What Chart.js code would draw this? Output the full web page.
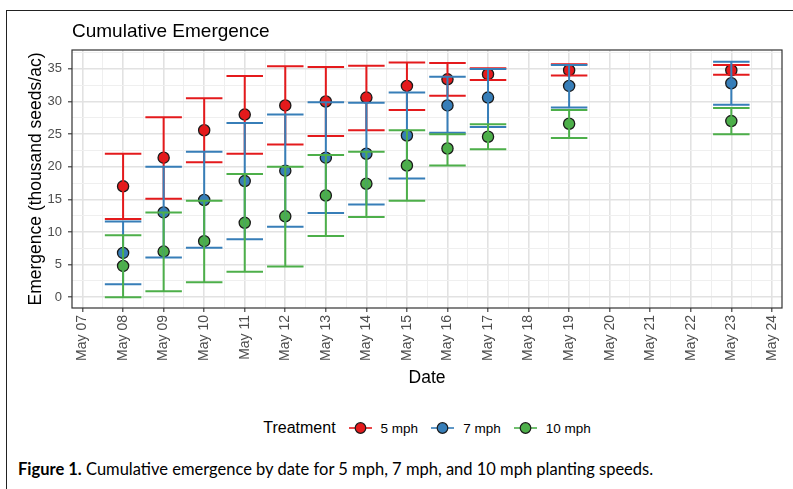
<!DOCTYPE html>
<html>
<head>
<meta charset="utf-8">
<title>Cumulative Emergence</title>
<script src="https://cdn.jsdelivr.net/npm/chart.js@4.4.1/dist/chart.umd.min.js"></script>
<style>
  body { margin: 0; background: #fff; width: 793px; height: 489px; position: relative; overflow: hidden;
         font-family: "Liberation Sans", Arial, sans-serif; }
  #frame { position: absolute; left: 6px; top: 10px; width: 800px; height: 478px;
           border-top: 1px solid #222; border-left: 1px solid #222; }
  #chartBox { position: absolute; left: 0; top: 0; width: 793px; height: 400px; }
  #title { position: absolute; left: 72px; top: 19px; font-size: 19px; line-height: 24px; color: #000; }
  #legend { position: absolute; left: 72px; width: 710px; top: 417px; height: 22px;
            display: flex; justify-content: center; align-items: center; }
  #legend .ttl { font-size: 16px; margin-right: 13px; }
  #legend .item { display: flex; align-items: center; margin-right: 13px; font-size: 13.5px; }
  #legend .item:last-child { margin-right: 0; }
  #legend svg { margin-right: 9px; }
  #caption { position: absolute; left: 18px; top: 459px; font-family: Lato, "Open Sans", sans-serif;
             font-size: 16.5px; color: #000; white-space: nowrap; }
</style>
</head>
<body>
<div id="frame"></div>
<div id="chartBox"><canvas id="chart"></canvas></div>
<div id="title">Cumulative Emergence</div>
<div id="legend"></div>
<div id="caption"><b>Figure 1.</b> Cumulative emergence by date for 5 mph, 7 mph, and 10 mph planting speeds.</div>

<script>
// Day of May for each observation
const days = [8, 9, 10, 11, 12, 13, 14, 15, 16, 17, 19, 23];

// 5 mph
const mean5 = [17.0, 21.4, 25.6, 28.0, 29.4, 30.0, 30.6, 32.4, 33.4, 34.2, 34.8, 34.8];
const low5  = [12.0, 15.1, 20.7, 22.0, 23.4, 24.7, 25.6, 28.7, 30.9, 33.3, 34.0, 34.1];
const high5 = [22.0, 27.6, 30.5, 33.9, 35.4, 35.3, 35.5, 36.0, 35.9, 35.1, 35.7, 35.6];

// 7 mph
const mean7 = [6.8, 13.0, 14.9, 17.8, 19.4, 21.4, 22.0, 24.8, 29.4, 30.6, 32.4, 32.8];
const low7  = [2.0, 6.1, 7.6, 8.9, 10.8, 12.9, 14.2, 18.2, 25.2, 26.1, 29.1, 29.5];
const high7 = [11.6, 20.0, 22.3, 26.7, 28.0, 29.9, 29.8, 31.4, 33.8, 35.0, 35.6, 36.1];

// 10 mph
const mean10 = [4.8, 7.0, 8.6, 11.4, 12.4, 15.6, 17.4, 20.2, 22.8, 24.6, 26.6, 27.0];
const low10  = [0.0, 0.9, 2.3, 3.9, 4.7, 9.4, 12.3, 14.8, 20.2, 22.7, 24.4, 25.0];
const high10 = [9.5, 13.0, 14.8, 18.9, 20.0, 21.8, 22.3, 25.6, 25.0, 26.5, 28.7, 29.0];

const seriesNames = ['5 mph', '7 mph', '10 mph'];
const seriesColors = ['#E41A1C', '#377EB8', '#4DAF4A'];

// Axis ticks (major + minor grid)
const xTicks = [];
for (let d = 7; d <= 24; d += 0.5) xTicks.push(d);
const yTicks = [];
for (let v = 0; v <= 37.5; v += 2.5) yTicks.push(v);

const means = [mean5, mean7, mean10];
const lows = [low5, low7, low10];
const highs = [high5, high7, high10];

const datasets = seriesNames.map((name, i) => ({
    label: name,
    data: days.map((d, j) => ({ x: d, y: means[i][j] })),
    errLow: lows[i],
    errHigh: highs[i],
    showLine: false,
    pointRadius: 5.6,
    pointBorderWidth: 1.3,
    pointBorderColor: '#1a1a1a',
    pointBackgroundColor: seriesColors[i],
    borderColor: seriesColors[i],
    order: 3 - i
}));

// Error bars drawn on top of the points, like the ggplot layer order
const errorBars = {
    id: 'errorBars',
    afterDatasetsDraw(chart) {
        const { ctx, scales: { x, y } } = chart;
        const capHalf = 0.45;
        ctx.save();
        ctx.lineWidth = 2;
        chart.data.datasets.forEach((ds, i) => {
            ctx.strokeStyle = seriesColors[i];
            ds.data.forEach((p, j) => {
                const px = x.getPixelForValue(p.x);
                const xl = x.getPixelForValue(p.x - capHalf);
                const xr = x.getPixelForValue(p.x + capHalf);
                const yl = y.getPixelForValue(ds.errLow[j]);
                const yh = y.getPixelForValue(ds.errHigh[j]);
                ctx.beginPath();
                ctx.moveTo(px, yl); ctx.lineTo(px, yh);
                ctx.moveTo(xl, yl); ctx.lineTo(xr, yl);
                ctx.moveTo(xl, yh); ctx.lineTo(xr, yh);
                ctx.stroke();
            });
        });
        ctx.restore();
    },
    afterDraw(chart) {
        // panel border
        const a = chart.chartArea;
        const ctx = chart.ctx;
        ctx.save();
        ctx.strokeStyle = '#333333';
        ctx.lineWidth = 1.2;
        ctx.strokeRect(a.left, a.top, a.right - a.left, a.bottom - a.top);
        ctx.restore();
    }
};

const isMajorX = v => Number.isInteger(v);
const isMajorY = v => v % 5 === 0;
const pad2 = n => (n < 10 ? '0' : '') + n;

new Chart(document.getElementById('chart'), {
    type: 'scatter',
    data: { datasets },
    options: {
        responsive: true,
        maintainAspectRatio: false,
        animation: false,
        events: [],
        layout: { padding: { top: 50, right: 11, left: 0, bottom: 0 } },
        plugins: { legend: { display: false }, tooltip: { enabled: false } },
        scales: {
            x: {
                type: 'linear',
                min: 6.74,
                max: 24.25,
                afterBuildTicks: s => { s.ticks = xTicks.map(v => ({ value: v })); },
                afterFit: s => { s.height = 92; },
                border: { display: false },
                grid: {
                    color: c => isMajorX(c.tick.value) ? '#E2E2E2' : '#EFEFEF',
                    lineWidth: c => isMajorX(c.tick.value) ? 1.6 : 1,
                    tickColor: c => isMajorX(c.tick.value) ? '#333333' : 'rgba(0,0,0,0)',
                    tickWidth: 1.1,
                    tickLength: 4
                },
                ticks: {
                    autoSkip: false,
                    minRotation: 90,
                    maxRotation: 90,
                    padding: 3,
                    color: '#4D4D4D',
                    font: { family: '"Liberation Sans", Arial', size: 14 },
                    callback: v => isMajorX(v) ? 'May ' + pad2(v) : ''
                },
                title: {
                    display: true,
                    text: 'Date',
                    color: '#000',
                    font: { family: '"Liberation Sans", Arial', size: 17.5 },
                    padding: { top: 0, bottom: 11.5 }
                }
            },
            y: {
                type: 'linear',
                min: -1.65,
                max: 37.9,
                afterBuildTicks: s => { s.ticks = yTicks.map(v => ({ value: v })); },
                afterFit: s => { s.width = 72; },
                border: { display: false },
                grid: {
                    color: c => isMajorY(c.tick.value) ? '#E2E2E2' : '#EFEFEF',
                    lineWidth: c => isMajorY(c.tick.value) ? 1.6 : 1,
                    tickColor: c => isMajorY(c.tick.value) ? '#333333' : 'rgba(0,0,0,0)',
                    tickWidth: 1.1,
                    tickLength: 4
                },
                ticks: {
                    autoSkip: false,
                    padding: 6,
                    color: '#4D4D4D',
                    font: { family: '"Liberation Sans", Arial', size: 13 },
                    callback: v => isMajorY(v) ? String(v) : ''
                },
                title: {
                    display: true,
                    text: 'Emergence (thousand seeds/ac)',
                    color: '#000',
                    font: { family: '"Liberation Sans", Arial', size: 17.5 },
                    padding: { top: 25.5, bottom: 0 }
                }
            }
        }
    },
    plugins: [errorBars]
});

// HTML legend built from the same series names/colours
const legend = document.getElementById('legend');
legend.innerHTML = '<span class="ttl">Treatment</span>' + seriesNames.map((n, i) => `
    <span class="item">
        <svg width="23" height="14" viewBox="0 0 23 14">
            <line x1="0" y1="7" x2="23" y2="7" stroke="${seriesColors[i]}" stroke-width="1.6"/>
            <circle cx="11.5" cy="7" r="5.3" fill="${seriesColors[i]}" stroke="#1a1a1a" stroke-width="1.2"/>
        </svg>${n}
    </span>`).join('');
</script>
</body>
</html>
